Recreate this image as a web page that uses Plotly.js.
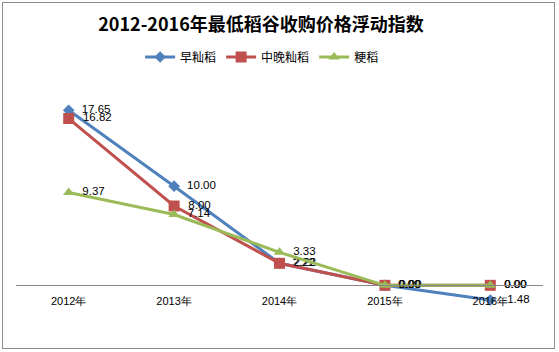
<!DOCTYPE html>
<html>
<head>
<meta charset="utf-8">
<script src="https://cdn.plot.ly/plotly-3.0.1.min.js"></script>
<style>
html,body{margin:0;padding:0;background:#fff;}
#wrap{position:relative;width:559px;height:352px;}
#chart{position:absolute;left:0;top:0;width:559px;height:352px;}
#frame{position:absolute;left:2px;top:2px;width:551px;height:345px;border:1px solid #8c8c8c;pointer-events:none;}
</style>
</head>
<body>
<div id="wrap"><div id="chart"></div><div id="frame"></div></div>
<script>
const years = ['2012年','2013年','2014年','2015年','2016年'];
const seriesNames = ['早籼稻','中晚籼稻','粳稻'];
const earlyIndica = [17.65, 10.00, 2.22, 0.00, -1.48];
const lateIndica = [16.82, 8.00, 2.22, 0.00, 0.00];
const japonica = [9.37, 7.14, 3.33, 0.00, 0.00];

const colors = ['#4F81BD','#C0504D','#9BBB59'];
const symbols = ['diamond','square','triangle-up'];
const sizes = [9, 11, 10];
const data = [earlyIndica, lateIndica, japonica].map((vals, i) => ({
  type: 'scatter',
  mode: 'lines+markers+text',
  name: seriesNames[i],
  x: years,
  y: vals,
  text: vals.map(v => '  ' + v.toFixed(2)),
  textposition: 'middle right',
  textfont: {family: 'Liberation Sans, Arial, sans-serif', size: 11.5, color: '#000'},
  line: {color: colors[i], width: 3},
  marker: {color: colors[i], symbol: symbols[i], size: sizes[i]},
  cliponaxis: false
}));

const yMin = -4, yMax = 20;
const layout = {
  width: 559, height: 352,
  margin: {l: 16, r: 16, t: 87, b: 27},
  paper_bgcolor: '#fff', plot_bgcolor: '#fff',
  title: {
    text: '<b>2012-2016年最低稻谷收购价格浮动指数</b>',
    font: {family: 'Noto Sans CJK SC, sans-serif', size: 18, color: '#000'},
    x: 0.467, xanchor: 'center', y: 0.929, yanchor: 'middle'
  },
  showlegend: true,
  legend: {
    orientation: 'h', x: 0.467, xanchor: 'center', y: 1.126, yanchor: 'middle',
    font: {family: 'Noto Sans CJK SC, sans-serif', size: 12, color: '#000'},
    itemwidth: 30, tracegroupgap: 0
  },
  xaxis: {
    type: 'category', range: [-0.5, 4.5],
    anchor: 'free', position: (0 - yMin) / (yMax - yMin),
    showline: true, linecolor: '#868686', linewidth: 1,
    showgrid: false, zeroline: false, ticks: '', ticklabelstandoff: 5,
    tickfont: {family: 'Liberation Sans, Arial, sans-serif', size: 11, color: '#000'}
  },
  yaxis: {
    range: [yMin, yMax], visible: false, showgrid: false, zeroline: false
  }
};
Plotly.newPlot('chart', data, layout, {displayModeBar: false, staticPlot: true});
</script>
</body>
</html>
